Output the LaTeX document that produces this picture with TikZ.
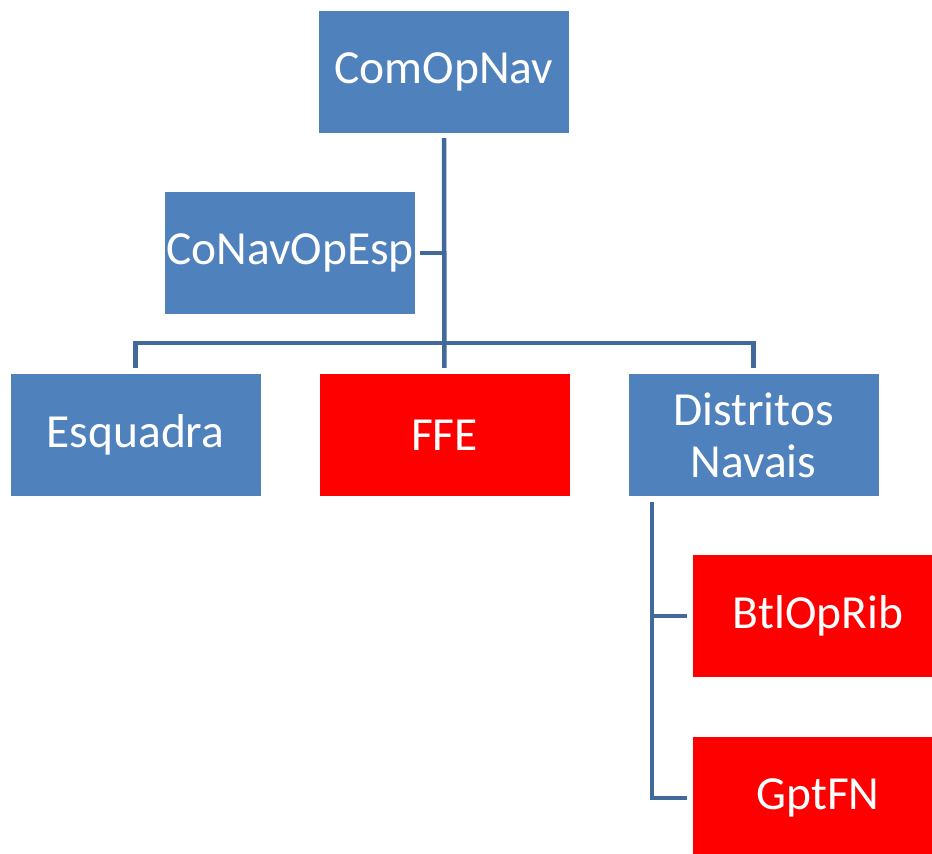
\documentclass[tikz,border=0pt]{standalone}
\usepackage{fontspec}
\setmainfont{Carlito}
\definecolor{boxblue}{HTML}{4F81BD}
\definecolor{boxred}{HTML}{FF0000}
\definecolor{linkblue}{HTML}{41699B}
\begin{document}
\begin{tikzpicture}[x=1pt,y=-1pt,
  orgbox/.style={minimum width=250pt,minimum height=122pt,inner sep=0pt,
    text=white,font=\fontsize{47.5}{52}\selectfont,align=center},
  bluebox/.style={orgbox,fill=boxblue},
  redbox/.style={orgbox,fill=boxred},
  conn/.style={draw=linkblue,line width=4.5pt}]
\useasboundingbox (0,0) rectangle (932,854);
\clip (0,0) rectangle (932,854);
\node[bluebox] (top) at (444,72) {ComOpNav};
\node[bluebox] (conav) at (290,253) {CoNavOpEsp};
\node[bluebox] (esq) at (135.5,435) {Esquadra};
\node[redbox] (ffe) at (444.5,435) {FFE};
\node[bluebox] (dist) at (753.5,435) {Distritos\\Navais};
\node[redbox] (btl) at (818,616) {BtlOpRib};
\node[redbox] (gpt) at (818,798) {GptFN};
\coordinate (bus) at (444,343);
\coordinate (dtop) at ([xshift=23.5pt]dist.south west);
\draw[conn,shorten <=5pt,shorten >=6pt] (top.south) -- (ffe.north);
\draw[conn,shorten <=5pt] (conav.east) -- (conav.east -| top.south);
\draw[conn,shorten <=6pt,shorten >=6pt] (esq.north) |- (bus) -| (dist.north);
\draw[conn,shorten <=6pt,shorten >=6pt] (dtop) |- (btl.west);
\draw[conn,shorten <=6pt,shorten >=6pt] (dtop) |- (gpt.west);
\end{tikzpicture}
\end{document}
